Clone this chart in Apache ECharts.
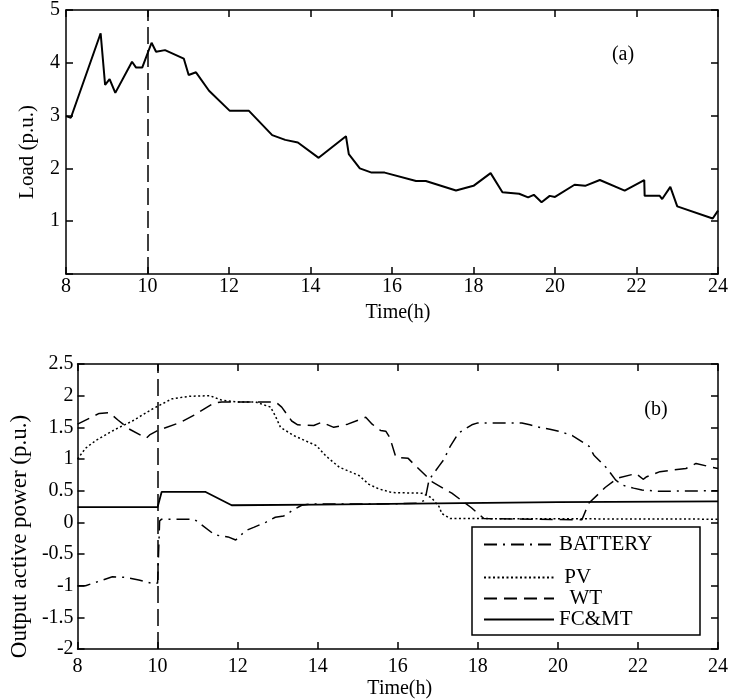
<!DOCTYPE html>
<html><head><meta charset="utf-8">
<script src="https://cdn.jsdelivr.net/npm/echarts@6/dist/echarts.min.js"></script>
<style>html,body{margin:0;padding:0;background:#fff}#c{width:731px;height:700px}</style>
</head><body><div id="c"></div>
<script>
const FONT = '"Liberation Serif", "Times New Roman", serif';

// ---- panel (a): load ----
const loadTime  = [8.0, 8.12, 8.85, 8.96, 9.07, 9.21, 9.62, 9.72, 9.87, 10.1, 10.21, 10.43, 10.89, 11.01, 11.19, 11.51, 12.02, 12.49, 13.06, 13.38, 13.69, 14.2, 14.87, 14.94, 15.21, 15.5, 15.82, 16.59, 16.83, 17.57, 18.0, 18.42, 18.71, 19.12, 19.34, 19.48, 19.67, 19.87, 20.0, 20.48, 20.74, 21.1, 21.71, 22.19, 22.2, 22.57, 22.63, 22.83, 23.0, 23.87, 24.0];
const loadValue = [2.99, 2.96, 4.56, 3.58, 3.69, 3.43, 4.02, 3.91, 3.91, 4.38, 4.21, 4.24, 4.08, 3.77, 3.82, 3.47, 3.09, 3.09, 2.63, 2.54, 2.49, 2.20, 2.61, 2.27, 2.0, 1.92, 1.92, 1.76, 1.76, 1.58, 1.67, 1.91, 1.55, 1.52, 1.45, 1.50, 1.36, 1.48, 1.46, 1.69, 1.67, 1.78, 1.58, 1.78, 1.48, 1.48, 1.42, 1.65, 1.28, 1.05, 1.2];

// ---- panel (b): output active power ----
const batteryTime  = [8.0, 8.2, 8.87, 9.2, 9.53, 9.9, 10.0, 10.05, 10.1, 10.9, 11.0, 11.43, 11.76, 11.95, 12.2, 12.4, 12.7, 12.94, 13.15, 13.35, 13.6, 13.8, 15.5, 16.5, 16.68, 16.78, 17.02, 17.15, 17.31, 17.52, 17.85, 18.0, 19.1, 19.3, 19.6, 19.8, 20.07, 20.36, 20.78, 20.9, 21.23, 21.44, 21.6, 21.89, 22.1, 22.54, 24.0];
const batteryValue = [-1.0, -1.0, -0.86, -0.87, -0.91, -0.97, -0.96, 0.02, 0.05, 0.05, 0.01, -0.2, -0.23, -0.28, -0.13, -0.08, 0.0, 0.08, 0.1, 0.18, 0.27, 0.29, 0.29, 0.3, 0.35, 0.67, 0.88, 0.99, 1.2, 1.41, 1.54, 1.57, 1.57, 1.54, 1.49, 1.47, 1.43, 1.37, 1.2, 1.06, 0.85, 0.67, 0.59, 0.54, 0.51, 0.49, 0.5];

const pvTime  = [8.0, 8.2, 8.45, 8.95, 9.37, 9.87, 10.36, 10.79, 11.3, 11.6, 12.0, 12.45, 12.82, 12.94, 13.07, 13.4, 13.97, 14.2, 14.54, 15.03, 15.28, 15.52, 15.85, 16.6, 16.84, 17.03, 17.1, 17.31, 24.0];
const pvValue = [1.0, 1.17, 1.29, 1.47, 1.6, 1.79, 1.95, 1.99, 2.0, 1.93, 1.9, 1.9, 1.82, 1.68, 1.5, 1.37, 1.21, 1.05, 0.87, 0.74, 0.6, 0.53, 0.47, 0.46, 0.39, 0.25, 0.14, 0.06, 0.05];

const wtTime  = [8.0, 8.54, 8.8, 9.0, 9.3, 9.65, 9.72, 9.8, 10.0, 10.58, 10.9, 11.4, 11.6, 12.95, 13.1, 13.35, 13.5, 13.9, 14.1, 14.4, 14.75, 15.2, 15.36, 15.57, 15.7, 15.8, 15.95, 16.26, 16.4, 16.86, 17.35, 17.84, 18.15, 20.6, 20.77, 21.18, 21.5, 21.95, 22.13, 22.22, 22.55, 23.2, 23.45, 23.78, 24.0];
const wtValue = [1.55, 1.72, 1.73, 1.62, 1.47, 1.35, 1.33, 1.38, 1.45, 1.58, 1.69, 1.88, 1.9, 1.9, 1.82, 1.6, 1.54, 1.53, 1.58, 1.5, 1.55, 1.66, 1.55, 1.45, 1.44, 1.34, 1.03, 1.01, 0.92, 0.64, 0.46, 0.23, 0.06, 0.04, 0.3, 0.55, 0.7, 0.77, 0.68, 0.72, 0.8, 0.85, 0.93, 0.88, 0.85];

const fcTime  = [8.0, 10.0, 10.1, 11.2, 11.85, 14.0, 17.0, 20.0, 24.0];
const fcValue = [0.24, 0.24, 0.48, 0.48, 0.27, 0.28, 0.30, 0.32, 0.33];

const switchTime = 10;
const seriesNames = ['BATTERY', 'PV', 'WT', 'FC&MT'];

const zip = (t, v) => t.map((x, i) => [x, v[i]]);

const black = '#000';
const axisLineStyle = { color: black, width: 1.5 };
const labelStyle = { fontFamily: FONT, fontSize: 20, color: black };
const nameStyle = { fontFamily: FONT, fontSize: 20, color: black };

function xAx(grid, top, margin, extra) {
  return Object.assign({
    gridIndex: grid, type: 'value', min: 8, max: 24, interval: 2,
    position: top ? 'top' : 'bottom',
    axisLine: { show: true, onZero: false, lineStyle: axisLineStyle },
    axisTick: { show: true, inside: true, length: 7, lineStyle: axisLineStyle },
    axisLabel: Object.assign({ show: !top, margin: margin }, labelStyle),
    splitLine: { show: false }
  }, extra || {});
}
function yAx(grid, right, min, max, interval, margin, extra) {
  return Object.assign({
    gridIndex: grid, type: 'value', min: min, max: max, interval: interval,
    position: right ? 'right' : 'left',
    axisLine: { show: true, onZero: false, lineStyle: axisLineStyle },
    axisTick: { show: true, inside: true, length: 7, lineStyle: axisLineStyle },
    axisLabel: Object.assign({ show: !right, margin: margin }, labelStyle),
    splitLine: { show: false }
  }, extra || {});
}

const vLine = {
  silent: true, symbol: ['none', 'none'], label: { show: false },
  lineStyle: { type: [17, 6], color: black, width: 1.5 },
  data: [{ xAxis: switchTime }], animation: false
};

const legendCommon = {
  orient: 'vertical', left: 483, padding: 0,
  itemWidth: 70, itemHeight: 14, selectedMode: false, z: 10,
  itemStyle: { opacity: 0, borderWidth: 0 }
};

const chart = echarts.init(document.getElementById('c'), null, { renderer: 'canvas' });
chart.setOption({
  animation: false,
  backgroundColor: '#fff',
  grid: [
    { left: 66, top: 10, right: 9, height: 264 },
    { left: 75, top: 364, right: 9, height: 285 }
  ],
  xAxis: [
    xAx(0, false, 3, { name: 'Time(h)', nameLocation: 'middle', nameGap: 29, nameTextStyle: Object.assign({ padding: [0, 0, 0, 12] }, nameStyle) }),
    xAx(0, true, 3),
    xAx(1, false, 8, { name: 'Time(h)', nameLocation: 'middle', nameGap: 30, nameTextStyle: Object.assign({ padding: [0, 0, 0, 4] }, nameStyle) }),
    xAx(1, true, 8)
  ],
  yAxis: [
    yAx(0, false, 0, 5, 1, 6, {
      name: 'Load (p.u.)', nameLocation: 'middle', nameGap: 28,
      nameTextStyle: Object.assign({ padding: [0, 20, 0, 0] }, nameStyle, { fontSize: 21 }),
      axisLabel: Object.assign({ show: true, margin: 6, formatter: v => (v === 0 ? '' : String(v)) }, labelStyle)
    }),
    yAx(0, true, 0, 5, 1, 6),
    yAx(1, false, -2, 2.5, 0.5, 4, {
      name: 'Output active power (p.u.)', nameLocation: 'middle', nameGap: 40,
      nameTextStyle: Object.assign({ padding: [0, 60, 0, 0] }, nameStyle, { fontSize: 23 })
    }),
    yAx(1, true, -2, 2.5, 0.5, 4)
  ],
  legend: [
    Object.assign({}, legendCommon, {
      data: ['BATTERY'], top: 534,
      textStyle: { fontFamily: FONT, fontSize: 21, color: black, lineHeight: 21 }
    }),
    Object.assign({}, legendCommon, {
      data: ['PV', 'WT', 'FC&MT'], top: 567, itemGap: 0,
      formatter: n => (n === 'PV' ? ' PV' : n === 'WT' ? '  WT' : n),
      textStyle: { fontFamily: FONT, fontSize: 21, color: black, lineHeight: 20 }
    })
  ],
  graphic: [
    { type: 'rect', z: 5, shape: { x: 472, y: 527, width: 228, height: 108 },
      style: { fill: '#fff', stroke: black, lineWidth: 1.5 } },
    { type: 'text', z: 5, x: 623, y: 55,
      style: { text: '(a)', fontFamily: FONT, fontSize: 20, fill: black, align: 'center', verticalAlign: 'middle' } },
    { type: 'text', z: 5, x: 656, y: 410,
      style: { text: '(b)', fontFamily: FONT, fontSize: 20, fill: black, align: 'center', verticalAlign: 'middle' } }
  ],
  series: [
    {
      name: 'Load', type: 'line', xAxisIndex: 0, yAxisIndex: 0, symbol: 'none',
      data: zip(loadTime, loadValue),
      lineStyle: { color: black, width: 2 }, markLine: vLine
    },
    {
      name: seriesNames[0], type: 'line', xAxisIndex: 2, yAxisIndex: 2, symbol: 'none',
      data: zip(batteryTime, batteryValue),
      lineStyle: { color: black, width: 1.5, type: [13, 6, 2, 6] }, itemStyle: { color: black }
    },
    {
      name: seriesNames[1], type: 'line', xAxisIndex: 2, yAxisIndex: 2, symbol: 'none',
      data: zip(pvTime, pvValue),
      lineStyle: { color: black, width: 1.5, type: [2, 2.5] }, itemStyle: { color: black }
    },
    {
      name: seriesNames[2], type: 'line', xAxisIndex: 2, yAxisIndex: 2, symbol: 'none',
      data: zip(wtTime, wtValue),
      lineStyle: { color: black, width: 1.5, type: [13, 7] }, itemStyle: { color: black }
    },
    {
      name: seriesNames[3], type: 'line', xAxisIndex: 2, yAxisIndex: 2, symbol: 'none',
      data: zip(fcTime, fcValue),
      lineStyle: { color: black, width: 1.8 }, itemStyle: { color: black }, markLine: vLine
    }
  ]
});
</script></body></html>
